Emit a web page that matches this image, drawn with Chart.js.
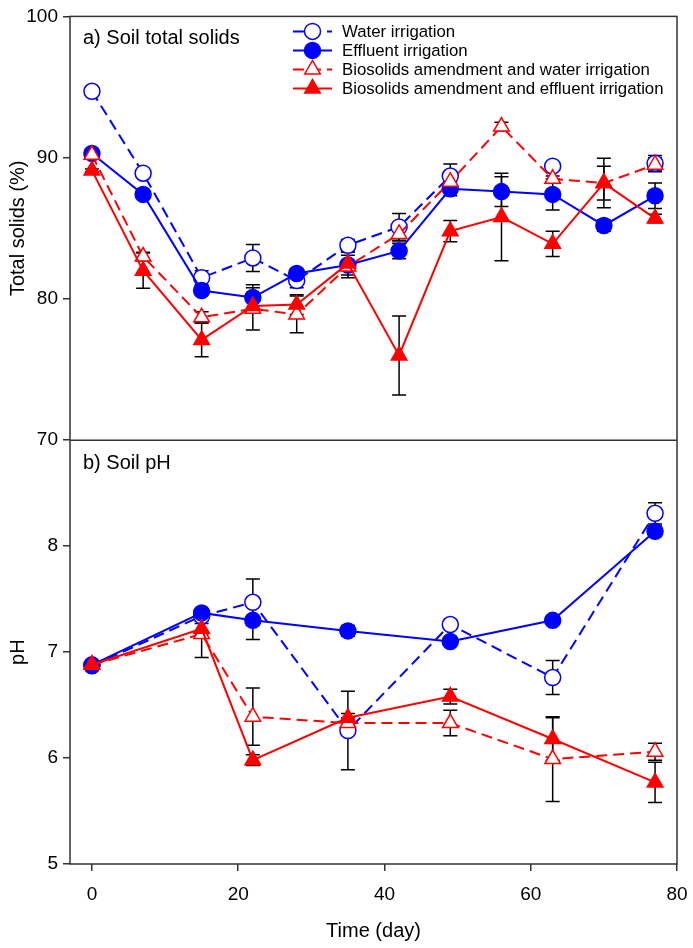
<!DOCTYPE html>
<html><head><meta charset="utf-8">
<script src="https://cdn.jsdelivr.net/npm/chart.js@4.4.0/dist/chart.umd.min.js"></script>
<style>html,body{margin:0;padding:0;background:#fff}#wrap{width:693px;height:948px;position:relative}</style>
</head><body><div id="wrap"><canvas id="c" width="693" height="948"></canvas></div>
<script>
// ---- data ----
const tsDays = [0, 7, 15, 22, 28, 35, 42, 49, 56, 63, 70, 77];
const phDays = [0, 15, 22, 35, 49, 63, 77];
const xTicks = [0, 20, 40, 60, 80];
const tsTicks = [70, 80, 90, 100];
const phTicks = [5, 6, 7, 8];
const seriesNames = ["Water irrigation", "Effluent irrigation",
  "Biosolids amendment and water irrigation", "Biosolids amendment and effluent irrigation"];

const tsWater    = [94.7, 88.9, 81.5, 82.9, 81.3, 83.8, 85.1, 88.7, null, 89.4, null, 89.6];
const tsWaterErr = [0.1, 0.2, 0.5, 0.95, 0.5, 0.4, 0.95, 0.85, 0, 0.1, 0, 0.55];
const tsEff      = [90.3, 87.4, 80.6, 80.1, 81.8, 82.4, 83.4, 87.8, 87.6, 87.4, 85.2, 87.3];
const tsEffErr   = [0.1, 0.2, 0.3, 0.9, 0.3, 0.3, 0.55, 0.5, 1.05, 1.1, 0.4, 0.9];
const tsBioW     = [90.2, 83.0, 78.7, 79.3, 78.9, 82.3, 84.6, 88.3, 92.2, 88.5, 88.2, 89.5];
const tsBioWErr  = [0.1, 0.3, 0.4, 1.5, 1.3, 0.8, 0.5, 0.6, 0.3, 0.2, 1.2, 0.5];
const tsBioE     = [89.1, 82.0, 77.1, 79.5, 79.6, 82.5, 76.0, 84.8, 85.8, 83.9, 88.2, 85.7];
const tsBioEErr  = [0.1, 1.25, 1.2, 0.4, 0.7, 0.8, 2.8, 0.75, 3.1, 0.9, 1.75, 0.3];

const phWater    = [6.87, 7.34, 7.47, 6.26, 7.26, 6.76, 8.31];
const phWaterErr = [0.02, 0.05, 0.22, 0.37, 0.04, 0.16, 0.1];
const phEff      = [6.88, 7.37, 7.30, 7.20, 7.10, 7.30, 8.14];
const phEffErr   = [0.02, 0.04, 0.18, 0.05, 0.03, 0.02, 0.05];
const phBioW     = [6.88, 7.17, 6.39, 6.33, 6.33, 5.99, 6.06];
const phBioWErr  = [0.02, 0.22, 0.27, 0.05, 0.12, 0.4, 0.08];
const phBioE     = [6.88, 7.22, 5.98, 6.38, 6.58, 6.18, 5.77];
const phBioEErr  = [0.02, 0.05, 0.05, 0.04, 0.07, 0.2, 0.19];

// ---- styles ----
const FONT = "'Liberation Sans', Arial, sans-serif";
const BLUE = '#0000ff', RED = '#ff0000';
const styles = [
  {color: BLUE, dash: [11, 6], shape: 'circle', r: 8, fill: '#ffffff'},
  {color: BLUE, dash: [], shape: 'circle', r: 8, fill: BLUE},
  {color: RED, dash: [11, 6], shape: 'triangle', r: 9, fill: '#ffffff'},
  {color: RED, dash: [], shape: 'triangle', r: 9, fill: RED},
];

function mk(days, vals, errs, si, axis) {
  const s = styles[si];
  return {
    label: seriesNames[si],
    data: days.map((d, i) => ({x: d, y: vals[i]})),
    errors: errs,
    yAxisID: axis,
    order: 4 - si,
    borderColor: s.color, borderWidth: 2, borderDash: s.dash,
    pointStyle: s.shape, pointRadius: s.r, pointHoverRadius: s.r,
    pointBackgroundColor: s.fill, pointBorderColor: s.color, pointBorderWidth: 1.5,
    spanGaps: false, tension: 0, fill: false, clip: false
  };
}

const datasets = [
  mk(tsDays, tsWater, tsWaterErr, 0, 'yTS'),
  mk(tsDays, tsEff, tsEffErr, 1, 'yTS'),
  mk(tsDays, tsBioW, tsBioWErr, 2, 'yTS'),
  mk(tsDays, tsBioE, tsBioEErr, 3, 'yTS'),
  mk(phDays, phWater, phWaterErr, 0, 'yPH'),
  mk(phDays, phEff, phEffErr, 1, 'yPH'),
  mk(phDays, phBioW, phBioWErr, 2, 'yPH'),
  mk(phDays, phBioE, phBioEErr, 3, 'yPH'),
];

const errorBars = {
  id: 'errorBars',
  beforeDatasetsDraw(chart) {
    const ctx = chart.ctx, xs = chart.scales.x;
    ctx.save();
    ctx.strokeStyle = '#000'; ctx.lineWidth = 1.5; ctx.setLineDash([]);
    chart.data.datasets.forEach(ds => {
      const ys = chart.scales[ds.yAxisID];
      ds.data.forEach((p, i) => {
        const e = ds.errors[i];
        if (p.y === null || !e) return;
        const px = xs.getPixelForValue(p.x);
        const y1 = ys.getPixelForValue(p.y + e), y2 = ys.getPixelForValue(p.y - e);
        ctx.beginPath();
        ctx.moveTo(px, y1); ctx.lineTo(px, y2);
        ctx.moveTo(px - 7, y1); ctx.lineTo(px + 7, y1);
        ctx.moveTo(px - 7, y2); ctx.lineTo(px + 7, y2);
        ctx.stroke();
      });
    });
    ctx.restore();
  }
};

const frame = {
  id: 'frame',
  afterDraw(chart) {
    const ctx = chart.ctx, a = chart.chartArea, yts = chart.scales.yTS;
    ctx.save();
    ctx.strokeStyle = '#333'; ctx.lineWidth = 1.5; ctx.setLineDash([]);
    ctx.strokeRect(a.left, a.top, a.right - a.left, a.bottom - a.top);
    ctx.beginPath();
    ctx.moveTo(a.left, yts.bottom); ctx.lineTo(a.right, yts.bottom);
    ctx.stroke();
    // panel labels
    ctx.fillStyle = '#000';
    ctx.font = '20px ' + FONT;
    ctx.textBaseline = 'alphabetic'; ctx.textAlign = 'left';
    ctx.fillText('a) Soil total solids', a.left + 13, a.top + 28);
    ctx.fillText('b) Soil pH', a.left + 13, yts.bottom + 29);
    // legend
    ctx.font = '16.8px ' + FONT;
    for (let i = 0; i < 4; i++) {
      const s = styles[i];
      const cy = a.top + 15 + i * 19;
      const x1 = a.left + 223, x2 = a.left + 262, cx = (x1 + x2) / 2;
      ctx.strokeStyle = s.color; ctx.lineWidth = 2; ctx.setLineDash(s.dash);
      ctx.beginPath(); ctx.moveTo(x1, cy); ctx.lineTo(x2, cy); ctx.stroke();
      ctx.setLineDash([]);
      ctx.fillStyle = s.fill; ctx.strokeStyle = s.color; ctx.lineWidth = 1.5;
      Chart.helpers.drawPoint(ctx, {pointStyle: s.shape, radius: s.r, rotation: 0, borderWidth: 1.5}, cx, cy);
      ctx.fillStyle = '#000';
      ctx.fillText(seriesNames[i], a.left + 272, cy + 6);
    }
    ctx.restore();
  }
};

const tickFont = {family: FONT, size: 19};
const titleFont = {family: FONT, size: 20};
const gridCfg = {display: true, drawOnChartArea: false, drawTicks: true, tickLength: 7, color: '#333', lineWidth: 1.5};

new Chart(document.getElementById('c'), {
  type: 'line',
  data: {datasets},
  options: {
    responsive: false, animation: false, devicePixelRatio: 1,
    layout: {padding: {top: 15, right: 16, left: 0, bottom: 0}},
    plugins: {legend: {display: false}, tooltip: {enabled: false}},
    elements: {line: {borderCapStyle: 'butt'}},
    scales: {
      x: {
        type: 'linear', position: 'bottom', min: -3, max: 80,
        afterBuildTicks: s => { s.ticks = xTicks.map(v => ({value: v})); },
        afterFit: s => { s.height = 84; s.paddingRight = 0; s.paddingLeft = 0; },
        ticks: {font: tickFont, color: '#000', padding: 12},
        grid: gridCfg, border: {display: false},
        title: {display: true, text: 'Time (day)', font: titleFont, color: '#000', padding: {top: 0, bottom: 5}}
      },
      yPH: {
        type: 'linear', position: 'left', stack: 'panels', stackWeight: 1, min: 5, max: 9,
        afterBuildTicks: s => { s.ticks = phTicks.map(v => ({value: v})); },
        afterFit: s => { s.width = 70; },
        ticks: {font: tickFont, color: '#000', padding: 5},
        grid: gridCfg, border: {display: false},
        title: {display: true, text: 'pH', font: titleFont, color: '#000', padding: {top: 6, bottom: 0}}
      },
      yTS: {
        type: 'linear', position: 'left', stack: 'panels', stackWeight: 1, min: 70, max: 100,
        afterBuildTicks: s => { s.ticks = tsTicks.map(v => ({value: v})); },
        afterFit: s => { s.width = 70; },
        ticks: {font: tickFont, color: '#000', padding: 5},
        grid: gridCfg, border: {display: false},
        title: {display: true, text: 'Total solids (%)', font: titleFont, color: '#000', padding: {top: 6, bottom: 0}}
      }
    }
  },
  plugins: [errorBars, frame]
});
</script>
</body></html>
